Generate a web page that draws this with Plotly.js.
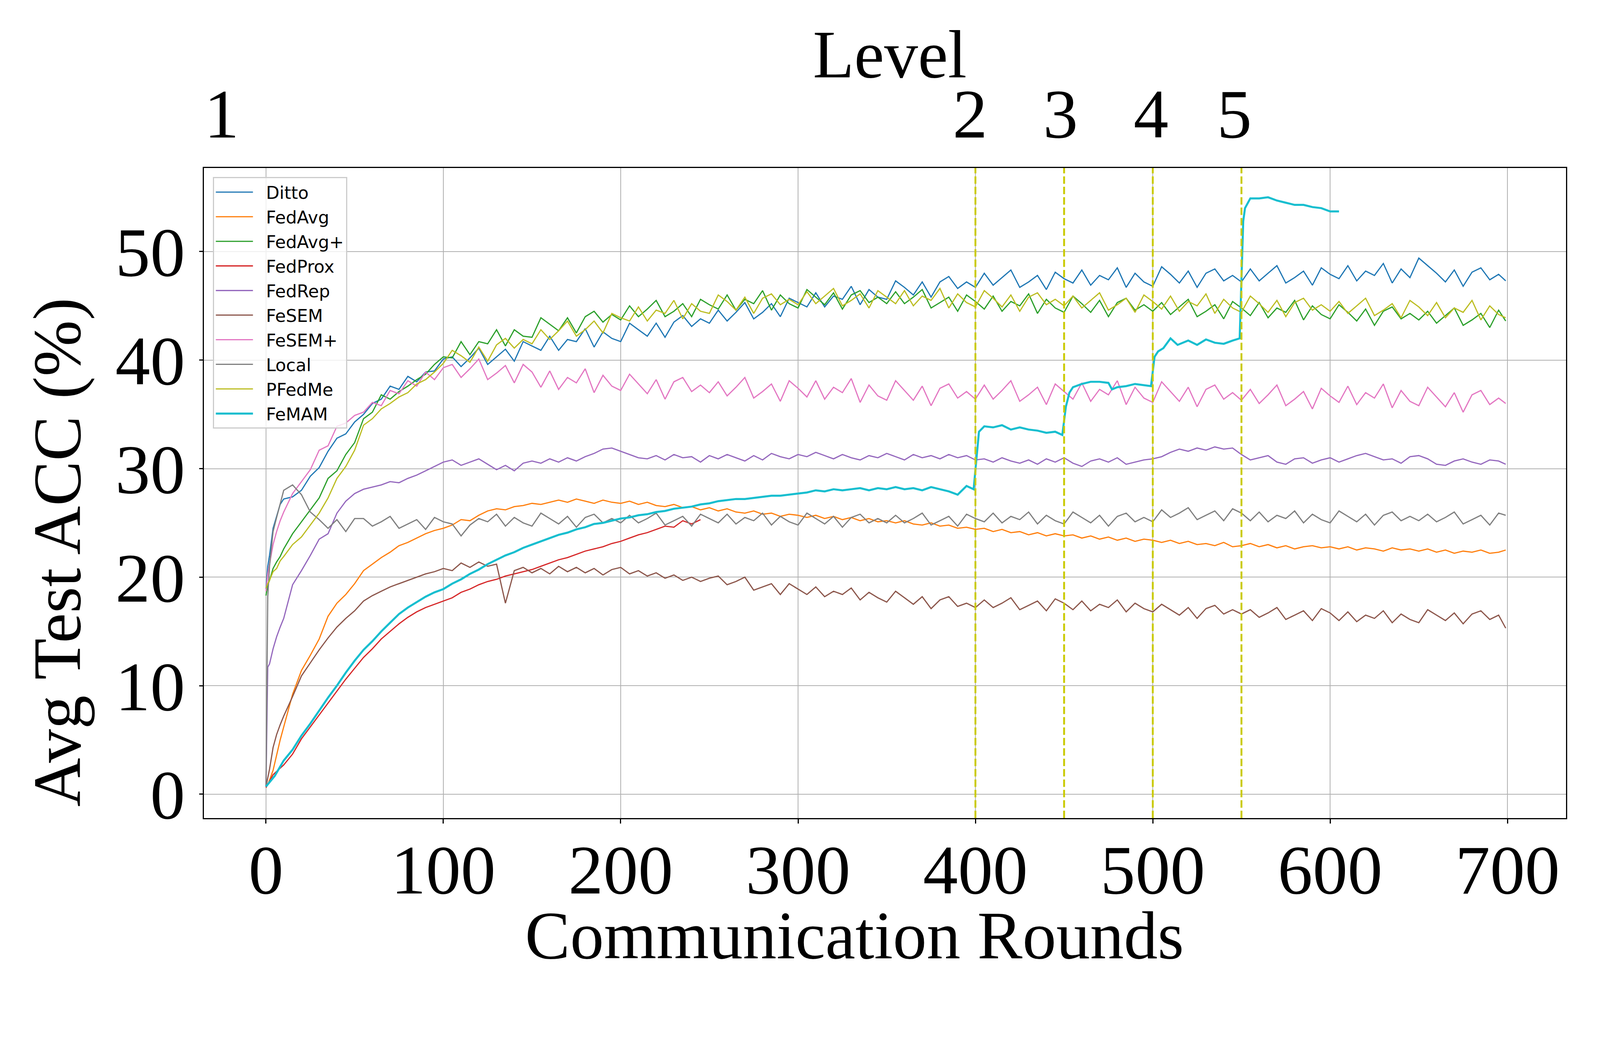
<!DOCTYPE html>
<html>
<head>
<meta charset="utf-8">
<script src="https://cdn.plot.ly/plotly-3.0.1.min.js"></script>
<style>
  html, body { margin: 0; padding: 0; background: #ffffff; overflow: hidden; }
  #chart { width: 100vw; height: 100vh; }
</style>
</head>
<body>
<div id="chart"></div>
<script>
// Avg test accuracy per communication round (every 5 rounds)

const rounds = [
  0, 1, 2, 4, 6, 8, 10,
  15, 20, 25, 30, 35, 40, 45, 50,
  55, 60, 65, 70, 75, 80, 85, 90, 95, 100,
  105, 110, 115, 120, 125, 130, 135, 140, 145, 150,
  155, 160, 165, 170, 175, 180, 185, 190, 195, 200,
  205, 210, 215, 220, 225, 230, 235, 240, 245, 250,
  255, 260, 265, 270, 275, 280, 285, 290, 295, 300,
  305, 310, 315, 320, 325, 330, 335, 340, 345, 350,
  355, 360, 365, 370, 375, 380, 385, 390, 395, 400,
  405, 410, 415, 420, 425, 430, 435, 440, 445, 450,
  455, 460, 465, 470, 475, 480, 485, 490, 495, 500,
  505, 510, 515, 520, 525, 530, 535, 540, 545, 550,
  555, 560, 565, 570, 575, 580, 585, 590, 595, 600,
  605, 610, 615, 620, 625, 630, 635, 640, 645, 650,
  655, 660, 665, 670, 675, 680, 685, 690, 695,
  699,
];

const ditto = [
  18.9, 21.0, 22.0, 24.5, 25.6, 26.7, 27.2,
  27.4, 28.0, 29.3, 30.1, 31.6, 32.8, 33.2, 34.3,
  35.0, 36.0, 36.4, 37.6, 37.3, 38.5, 38.0, 38.9, 39.0, 40.1,
  40.3, 39.4, 40.2, 41.1, 39.6, 40.3, 41.0, 39.9, 41.7, 41.3,
  40.9, 42.2, 40.9, 41.9, 41.7, 42.9, 41.2, 42.6, 42.0, 41.7,
  43.4, 42.8, 42.2, 43.4, 42.1, 43.5, 44.1, 43.1, 43.8, 43.4,
  44.6, 43.6, 44.4, 45.3, 43.8, 44.4, 45.2, 44.0, 45.7, 45.3,
  44.9, 46.2, 44.9, 45.9, 45.6, 46.8, 45.1, 46.5, 45.8, 45.6,
  47.3, 46.7, 46.0, 47.2, 45.8, 47.2, 47.7, 46.6, 47.2, 46.7,
  48.0, 46.9, 47.6, 48.3, 46.7, 47.2, 47.8, 46.5, 48.1, 47.5,
  47.1, 48.3, 46.9, 47.8, 47.4, 48.5, 46.7, 48.0, 47.2, 46.8,
  48.6, 47.9, 47.1, 48.2, 46.7, 48.0, 48.4, 47.3, 47.8, 47.2,
  48.4, 47.3, 48.0, 48.7, 47.1, 47.6, 48.2, 46.9, 48.5, 47.9,
  47.5, 48.7, 47.3, 48.2, 47.8, 48.9, 47.1, 48.4, 47.6, 49.4,
  48.7, 48.0, 47.2, 48.3, 46.8, 48.1, 48.5, 47.4, 47.9,
  47.3,
];

const fedAvg = [
  0.7, 0.9, 1.3, 2.2, 3.6, 5.0, 6.2,
  9.2, 11.4, 12.8, 14.3, 16.4, 17.6, 18.4, 19.4,
  20.6, 21.2, 21.8, 22.3, 22.9, 23.2, 23.6, 24.0, 24.3, 24.5,
  24.8, 25.3, 25.2, 25.7, 26.1, 26.3, 26.2, 26.5, 26.6, 26.8,
  26.7, 26.9, 27.1, 26.9, 27.2, 27.0, 26.8, 27.1, 26.9, 26.8,
  27.0, 26.7, 26.9, 26.6, 26.5, 26.7, 26.4, 26.5, 26.2, 26.4,
  26.1, 26.3, 26.0, 25.9, 26.1, 25.8, 25.9, 25.6, 25.8, 25.7,
  25.5, 25.7, 25.4, 25.6, 25.3, 25.5, 25.2, 25.4, 25.1, 25.2,
  25.0, 25.2, 24.9, 24.8, 25.0, 24.7, 24.8, 24.5, 24.6, 24.4,
  24.5, 24.2, 24.4, 24.1, 24.2, 23.9, 24.1, 23.8, 24.0, 23.8,
  23.9, 23.6, 23.8, 23.5, 23.7, 23.4, 23.6, 23.3, 23.5, 23.4,
  23.2, 23.4, 23.1, 23.3, 23.0, 23.1, 22.9, 23.2, 22.8, 22.9,
  23.1, 22.8, 23.0, 22.7, 22.9, 22.6, 22.8, 22.9, 22.7, 22.8,
  22.6, 22.8, 22.5, 22.7, 22.6, 22.4, 22.7, 22.5, 22.6, 22.4,
  22.6, 22.3, 22.5, 22.2, 22.4, 22.3, 22.5, 22.2, 22.3,
  22.5,
];

const fedAvgPlus = [
  18.3, 19.3, 19.7, 20.8, 21.4, 21.9, 22.6,
  24.0, 25.1, 26.2, 27.3, 29.1, 29.8, 31.3, 32.4,
  34.6, 35.2, 36.8, 36.4, 37.1, 37.6, 38.2, 38.7, 39.6, 40.3,
  40.2, 41.7, 40.5, 41.7, 41.5, 42.8, 41.3, 42.8, 42.2, 42.1,
  43.9, 43.3, 42.7, 43.9, 42.5, 44.0, 44.5, 43.5, 44.2, 43.7,
  45.0, 44.0, 44.7, 45.5, 44.0, 44.5, 45.2, 44.0, 45.6, 45.1,
  44.7, 46.0, 44.6, 45.6, 45.2, 46.4, 44.6, 46.0, 45.2, 44.8,
  46.5, 45.8, 45.1, 46.2, 44.7, 46.0, 46.4, 45.3, 45.8, 45.2,
  46.3, 45.2, 45.8, 46.5, 44.8, 45.3, 45.8, 44.5, 46.0, 45.4,
  44.7, 45.9, 44.5, 45.4, 45.0, 46.1, 44.3, 45.6, 44.8, 44.4,
  45.9, 45.2, 44.4, 45.5, 44.0, 45.3, 45.7, 44.6, 45.1, 44.5,
  45.3, 44.2, 44.9, 45.6, 44.0, 44.5, 45.1, 43.8, 45.4, 44.8,
  44.1, 45.3, 43.9, 44.8, 44.4, 45.5, 43.7, 45.0, 44.2, 43.8,
  45.1, 44.4, 43.6, 44.7, 43.2, 44.5, 44.9, 43.8, 44.3, 43.7,
  44.5, 43.4, 44.1, 44.8, 43.2, 43.7, 44.3, 43.0, 44.6,
  43.6,
];

// FedProx stops at round 245
const fedProx = [
  0.6, 0.9, 1.2, 1.8, 2.1, 2.4, 2.7,
  3.7, 5.1, 6.2, 7.3, 8.4, 9.5, 10.6, 11.6,
  12.6, 13.4, 14.3, 15.0, 15.7, 16.3, 16.8, 17.2, 17.5, 17.8,
  18.1, 18.6, 18.9, 19.3, 19.6, 19.8, 20.1, 20.3, 20.5, 20.7,
  21.0, 21.3, 21.6, 21.8, 22.1, 22.4, 22.6, 22.8, 23.1, 23.3,
  23.6, 23.9, 24.1, 24.4, 24.7, 24.6, 25.2, 24.9, 25.3,
];

const fedRep = [
  0.7, 11.7, 12.0, 13.4, 14.5, 15.4, 16.2,
  19.3, 20.6, 22.0, 23.5, 24.0, 25.9, 27.0, 27.7,
  28.1, 28.3, 28.5, 28.8, 28.7, 29.1, 29.4, 29.8, 30.2, 30.6,
  30.8, 30.3, 30.6, 30.9, 30.4, 29.9, 30.3, 29.8, 30.5, 30.7,
  30.5, 30.9, 30.6, 31.0, 30.7, 31.1, 31.4, 31.8, 31.9, 31.6,
  31.3, 31.0, 30.9, 31.2, 30.8, 31.3, 31.0, 31.1, 30.6, 31.2,
  30.9, 31.3, 31.0, 30.7, 31.2, 30.8, 31.4, 31.1, 30.9, 31.3,
  31.1, 31.5, 31.2, 30.9, 31.3, 31.0, 30.8, 31.2, 31.0, 31.4,
  31.1, 30.8, 31.3, 31.0, 31.2, 30.9, 31.3, 31.0, 31.2, 30.8,
  30.9, 30.6, 31.0, 30.7, 30.5, 30.8, 30.4, 30.9, 30.6, 31.0,
  30.5, 30.2, 30.7, 30.9, 30.6, 31.0, 30.4, 30.6, 30.8, 30.9,
  31.1, 31.5, 31.8, 31.6, 31.9, 31.7, 32.0, 31.8, 31.9, 31.3,
  30.8, 31.0, 31.2, 30.6, 30.4, 30.9, 31.0, 30.5, 30.8, 31.0,
  30.6, 30.9, 31.2, 31.4, 31.1, 30.8, 30.9, 30.5, 31.1, 31.2,
  30.9, 30.4, 30.3, 30.7, 30.9, 30.6, 30.4, 30.8, 30.7,
  30.4,
];

const feSEM = [
  0.7, 1.5, 2.3, 4.3, 5.5, 6.4, 7.2,
  9.0, 10.9, 12.1, 13.3, 14.4, 15.4, 16.2, 16.9,
  17.8, 18.3, 18.7, 19.1, 19.4, 19.7, 20.0, 20.3, 20.5, 20.8,
  20.6, 21.3, 20.9, 21.4, 21.0, 21.2, 17.6, 20.6, 20.9, 20.4,
  20.8, 20.3, 21.0, 20.5, 20.9, 20.4, 20.8, 20.2, 20.7, 20.9,
  20.3, 20.6, 20.1, 20.4, 19.9, 20.2, 19.7, 20.0, 19.6, 19.9,
  20.1, 19.3, 19.6, 20.0, 18.8, 19.1, 19.4, 18.4, 19.4, 18.9,
  18.4, 19.1, 18.2, 18.7, 18.4, 19.0, 17.9, 18.6, 18.1, 17.7,
  18.7, 18.1, 17.5, 18.2, 17.1, 17.9, 18.2, 17.3, 17.6, 17.2,
  17.9, 17.2, 17.6, 18.1, 17.0, 17.4, 17.8, 16.9, 18.0, 17.6,
  17.0, 17.8, 16.9, 17.5, 17.2, 17.9, 16.8, 17.6, 17.1, 16.8,
  17.5, 17.0, 16.5, 17.2, 16.2, 17.1, 17.4, 16.6, 17.0, 16.6,
  17.0, 16.3, 16.7, 17.2, 16.1, 16.5, 16.9, 16.0, 17.1, 16.7,
  16.0, 16.8, 15.9, 16.5, 16.2, 16.9, 15.8, 16.6, 16.1, 15.8,
  17.0, 16.5, 16.0, 16.7, 15.7, 16.6, 16.9, 16.1, 16.5,
  15.3,
];

const feSEMPlus = [
  18.7, 20.3, 21.2, 23.0, 24.2, 25.2, 26.0,
  27.7, 28.8, 29.9, 31.7, 32.1, 33.9, 34.2, 34.9,
  35.2, 36.1, 35.8, 37.2, 36.9, 38.1, 37.6, 38.9, 38.2, 39.3,
  39.6, 38.4, 39.2, 40.1, 38.2, 38.8, 39.5, 37.9, 39.6, 38.9,
  37.5, 39.0, 37.3, 38.4, 37.9, 39.2, 37.0, 38.6, 37.6, 37.2,
  38.7, 37.8, 36.9, 38.2, 36.4, 38.0, 38.4, 37.1, 37.7, 37.0,
  38.0, 36.7, 37.5, 38.4, 36.5, 37.1, 37.8, 36.2, 38.1, 37.4,
  36.6, 38.1, 36.4, 37.5, 37.0, 38.3, 36.1, 37.7, 36.7, 36.3,
  38.1, 37.2, 36.3, 37.6, 35.8, 37.4, 37.8, 36.5, 37.1, 36.4,
  37.7, 36.4, 37.2, 38.1, 36.2, 36.8, 37.5, 35.9, 37.8, 37.1,
  36.4, 37.9, 36.2, 37.3, 36.8, 38.1, 35.9, 37.5, 36.5, 36.1,
  38.0, 37.1, 36.2, 37.5, 35.7, 37.3, 37.7, 36.4, 37.0, 36.3,
  37.3, 36.0, 36.8, 37.7, 35.8, 36.4, 37.1, 35.5, 37.4, 36.7,
  36.1, 37.6, 35.9, 37.0, 36.5, 37.8, 35.6, 37.2, 36.2, 35.8,
  37.5, 36.6, 35.7, 37.0, 35.2, 36.8, 37.2, 35.9, 36.5,
  36.0,
];

const local = [
  0.7, 18.2, 21.0, 24.2, 25.5, 26.7, 28.0,
  28.5, 27.6, 26.0, 25.3, 24.5, 25.3, 24.2, 25.4,
  25.4, 24.7, 25.1, 25.6, 24.5, 24.9, 25.3, 24.4, 25.5, 25.1,
  24.9, 23.8, 24.8, 25.4, 25.1, 25.8, 24.7, 25.5, 25.0, 24.7,
  25.9, 25.4, 24.9, 25.6, 24.6, 25.5, 25.8, 25.0, 25.4, 25.0,
  25.7, 25.0, 25.4, 25.9, 24.8, 25.2, 25.6, 24.7, 25.8, 25.4,
  25.0, 25.8, 24.9, 25.5, 25.2, 25.9, 24.8, 25.6, 25.1, 24.8,
  25.9, 25.4, 24.9, 25.6, 24.6, 25.5, 25.8, 25.0, 25.4, 25.0,
  25.7, 25.0, 25.4, 25.9, 24.8, 25.2, 25.6, 24.7, 25.8, 25.4,
  25.1, 25.9, 25.0, 25.6, 25.3, 26.0, 24.9, 25.7, 25.2, 24.9,
  26.0, 25.5, 25.0, 25.7, 24.7, 25.6, 25.9, 25.1, 25.5, 25.1,
  26.2, 25.5, 25.9, 26.4, 25.3, 25.7, 26.1, 25.2, 26.3, 25.9,
  25.2, 26.0, 25.1, 25.7, 25.4, 26.1, 25.0, 25.8, 25.3, 25.0,
  26.1, 25.6, 25.1, 25.8, 24.8, 25.7, 26.0, 25.2, 25.6, 25.2,
  25.8, 25.1, 25.5, 26.0, 24.9, 25.3, 25.7, 24.8, 25.9,
  25.7,
];

const pFedMe = [
  19.0, 19.4, 19.7, 20.5, 20.8, 21.5, 21.9,
  23.0, 23.7, 24.8, 25.9, 27.3, 29.1, 30.2, 31.7,
  34.0, 34.6, 35.5, 36.0, 36.6, 37.0, 37.8, 38.2, 38.9, 39.7,
  40.9, 40.4, 39.8, 41.2, 39.9, 41.4, 42.0, 41.1, 41.9, 41.5,
  42.8, 41.9, 42.7, 43.6, 42.2, 42.8, 43.6, 42.5, 44.3, 43.9,
  43.6, 44.9, 43.6, 44.6, 44.3, 45.5, 43.8, 45.2, 44.5, 44.3,
  46.0, 45.4, 44.6, 45.8, 44.3, 45.7, 46.1, 45.1, 45.6, 45.1,
  46.3, 45.2, 45.9, 46.6, 45.0, 45.5, 46.1, 44.8, 46.4, 45.8,
  45.2, 46.4, 45.0, 45.9, 45.5, 46.6, 44.8, 46.1, 45.3, 44.9,
  46.4, 45.7, 44.9, 46.0, 44.5, 45.8, 46.2, 45.1, 45.6, 45.0,
  45.9, 44.8, 45.5, 46.2, 44.6, 45.1, 45.7, 44.4, 46.0, 45.4,
  44.7, 45.9, 44.5, 45.4, 45.0, 46.1, 44.3, 45.6, 44.8, 44.4,
  45.9, 45.2, 44.4, 45.5, 44.0, 45.3, 45.7, 44.6, 45.1, 44.5,
  45.4, 44.3, 45.0, 45.7, 44.1, 44.6, 45.2, 43.9, 45.5, 44.9,
  44.1, 45.3, 43.9, 44.8, 44.4, 45.5, 43.7, 45.0, 44.2,
  43.9,
];

// FeMAM has its own rounds: it jumps at each new level and stops at 605
const femamRounds = [
  0, 5, 10, 15, 20, 25, 30, 35, 40, 45,
  50, 55, 60, 65, 70, 75, 80, 85, 90, 95,
  100, 105, 110, 115, 120, 125, 130, 135, 140, 145,
  150, 155, 160, 165, 170, 175, 180, 185, 190, 195,
  200, 205, 210, 215, 220, 225, 230, 235, 240, 245,
  250, 255, 260, 265, 270, 275, 280, 285, 290, 295,
  300, 305, 310, 315, 320, 325, 330, 335, 340, 345,
  350, 355, 360, 365, 370, 375, 380, 385, 390, 395,
  399, 401, 402, 405, 410, 415, 420, 425, 430, 435, 440, 445, 449,
  451, 453, 455, 460, 465, 470, 475, 477, 480, 485, 490, 495, 499,
  501, 503, 506, 510, 514, 520, 525, 530, 535, 540, 545, 549,
  551, 552, 555, 560, 565, 570, 575, 580, 585, 590, 595, 600, 605,
];

const feMAM = [
  0.7, 1.7, 3.1, 4.1, 5.4, 6.5, 7.7, 8.9, 10.0, 11.2,
  12.3, 13.3, 14.1, 15.0, 15.8, 16.6, 17.2, 17.7, 18.2, 18.6,
  18.9, 19.4, 19.8, 20.3, 20.7, 21.2, 21.6, 22.0, 22.3, 22.7,
  23.0, 23.3, 23.6, 23.9, 24.1, 24.4, 24.6, 24.9, 25.0, 25.2,
  25.4, 25.5, 25.7, 25.8, 26.0, 26.1, 26.3, 26.4, 26.5, 26.7,
  26.8, 27.0, 27.1, 27.2, 27.2, 27.3, 27.4, 27.5, 27.5, 27.6,
  27.7, 27.8, 28.0, 27.9, 28.1, 28.0, 28.1, 28.2, 28.0, 28.2,
  28.1, 28.3, 28.1, 28.2, 28.0, 28.3, 28.1, 27.9, 27.6, 28.4,
  28.1, 31.6, 33.4, 33.9, 33.8, 34.0, 33.6, 33.8, 33.6, 33.5, 33.3, 33.4, 33.1,
  35.7, 37.0, 37.5, 37.8, 38.0, 38.0, 37.9, 37.3, 37.5, 37.6, 37.8, 37.7, 37.6,
  40.3, 40.8, 41.1, 42.0, 41.4, 41.8, 41.4, 41.9, 41.6, 41.5, 41.8, 42.0,
  52.8, 54.0, 54.9, 54.9, 55.0, 54.7, 54.5, 54.3, 54.3, 54.1, 54.0, 53.7, 53.7,
];

const levelRounds = [400, 450, 500, 550];
const levelTickPos = [-25, 397, 448, 499, 546];
const levelLabels = ['1', '2', '3', '4', '5'];
const roundTicks = [0, 100, 200, 300, 400, 500, 600, 700];
const accTicks = [0, 10, 20, 30, 40, 50];

// the figure was drawn at 4309 x 2703; scale every pixel size to the window
const S = Math.min(window.innerWidth / 4309, window.innerHeight / 2703);
const px = v => v * S;
const ipx = v => Math.round(v * S);   // for attributes that must be integers

const SERIF = 'Liberation Serif, Times New Roman, serif';
const NB = '\u00a0\u00a0';

function line(name, x, y, color, width) {
  return {
    x: x, y: y, name: NB + name, legendgroup: name,
    type: 'scatter', mode: 'lines',
    line: { color: color, width: px(width || 3.2) },
    xaxis: 'x', yaxis: 'y',
  };
}

const traces = [
  line('Ditto',   rounds, ditto,      '#1f77b4'),
  line('FedAvg',  rounds, fedAvg,     '#ff7f0e'),
  line('FedAvg+', rounds, fedAvgPlus, '#2ca02c'),
  line('FedProx', rounds, fedProx,    '#d62728'),
  line('FedRep',  rounds, fedRep,     '#9467bd'),
  line('FeSEM',   rounds, feSEM,      '#8c564b'),
  line('FeSEM+',  rounds, feSEMPlus,  '#e377c2'),
  line('Local',   rounds, local,      '#7f7f7f'),
  line('PFedMe',  rounds, pFedMe,     '#bcbd22'),
  line('FeMAM',   femamRounds, feMAM, '#17becf', 5.5),
  // empty trace so the top "Level" axis gets drawn
  {
    x: levelRounds, y: levelRounds.map(() => null),
    xaxis: 'x2', yaxis: 'y', type: 'scatter', mode: 'lines',
    showlegend: false, hoverinfo: 'skip',
  },
];

const levelShapes = levelRounds.map(r => ({
  type: 'line', xref: 'x', yref: 'paper',
  x0: r, x1: r, y0: 0, y1: 1,
  line: { color: '#c9c900', width: px(5), dash: px(20) + 'px,' + px(8) + 'px' },
  layer: 'above',
}));

const layout = {
  width: px(4309),
  height: px(2703),
  margin: { l: px(549), r: px(91), t: px(452), b: px(500), pad: 0 },
  paper_bgcolor: '#ffffff',
  plot_bgcolor: '#ffffff',
  font: { family: SERIF, color: '#000000' },
  showlegend: true,
  legend: {
    x: 0.0065, y: 0.986, xanchor: 'left', yanchor: 'top',
    bgcolor: 'rgba(255,255,255,0.8)',
    bordercolor: '#cccccc', borderwidth: px(3),
    font: { family: 'DejaVu Sans', size: px(47), color: '#000000' },
    tracegroupgap: px(2),
    itemwidth: px(100),
  },
  xaxis: {
    range: [-35, 733],
    tickvals: roundTicks,
    ticks: 'outside', ticklen: px(12), tickwidth: px(3), tickcolor: '#000000',
    ticklabelstandoff: ipx(-38),
    tickfont: { family: SERIF, size: px(188), color: '#000000' },
    showgrid: true, gridcolor: '#b0b0b0', gridwidth: px(2),
    zeroline: false,
    showline: true, linecolor: '#000000', linewidth: px(3), mirror: true,
  },
  xaxis2: {
    overlaying: 'x', side: 'top', anchor: 'y',
    range: [-35, 733],
    tickvals: levelTickPos, ticktext: levelLabels,
    ticks: '', ticklabelstandoff: ipx(43),
    tickfont: { family: SERIF, size: px(188), color: '#000000' },
    showgrid: false, zeroline: false, showline: false,
  },
  yaxis: {
    range: [-2.2, 57.7],
    tickvals: accTicks,
    ticks: 'outside', ticklen: px(10), tickwidth: px(3), tickcolor: '#000000',
    tickfont: { family: SERIF, size: px(188), color: '#000000' },
    showgrid: true, gridcolor: '#b0b0b0', gridwidth: px(2),
    zeroline: false,
    showline: true, linecolor: '#000000', linewidth: px(3), mirror: true,
  },
  shapes: levelShapes,
  annotations: [
    {
      text: 'Communication Rounds', xref: 'paper', yref: 'paper',
      x: 0.4775, y: -0.1805, xanchor: 'center', yanchor: 'middle',
      showarrow: false, font: { family: SERIF, size: px(182), color: '#000000' },
    },
    {
      text: 'Level', xref: 'paper', yref: 'paper',
      x: 0.5037, y: 1.1748, xanchor: 'center', yanchor: 'middle',
      showarrow: false, font: { family: SERIF, size: px(182), color: '#000000' },
    },
    {
      text: 'Avg Test ACC (%)', xref: 'paper', yref: 'paper',
      x: -0.1074, y: 0.409, xanchor: 'center', yanchor: 'middle',
      textangle: -90,
      showarrow: false, font: { family: SERIF, size: px(182), color: '#000000' },
    },
  ],
};

Plotly.newPlot('chart', traces, layout, { displayModeBar: false, responsive: false });
</script>
</body>
</html>
